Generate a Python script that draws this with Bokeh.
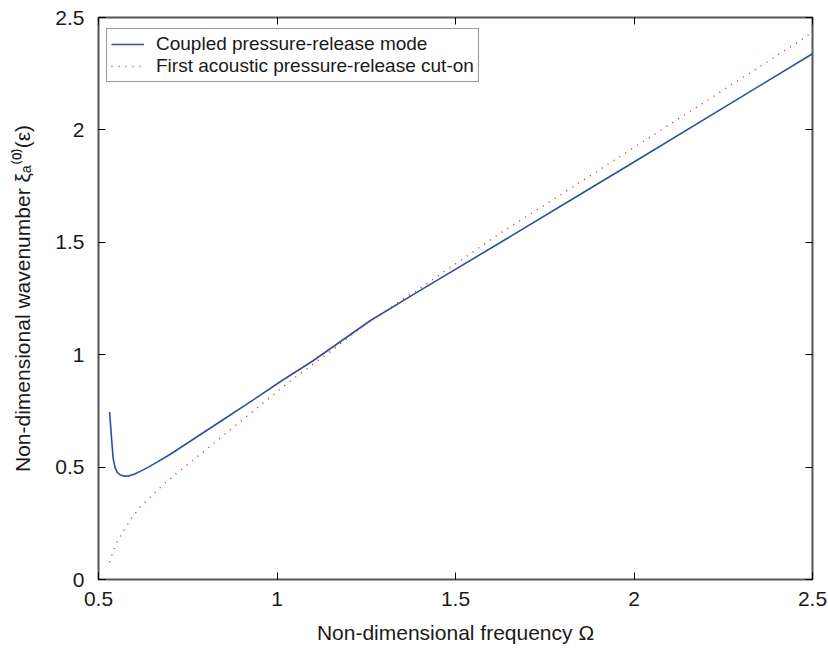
from bokeh.plotting import figure
from bokeh.models import LinearAxis, FixedTicker, Legend, LegendItem, Range1d
from bokeh.embed import file_html
from bokeh.resources import INLINE

# Coupled pressure-release mode (blue solid)
coupled_x = [0.531, 0.536, 0.541, 0.546, 0.552, 0.560, 0.571, 0.585, 0.600, 0.618,
             0.640, 0.664, 0.700, 0.758, 0.851, 0.945, 1.011, 1.100, 1.262, 1.400,
             1.635, 1.800, 2.000, 2.250, 2.500]
coupled_y = [0.745, 0.640, 0.540, 0.500, 0.478, 0.466, 0.460, 0.461, 0.468, 0.482,
             0.500, 0.522, 0.556, 0.616, 0.713, 0.811, 0.882, 0.972, 1.152, 1.285,
             1.508, 1.666, 1.857, 2.098, 2.339]

# First acoustic pressure-release cut-on (red dotted)
cuton_x = [0.531, 0.538, 0.552, 0.571, 0.594, 0.618, 0.664, 0.711, 0.758, 0.851,
           0.945, 1.039, 1.150, 1.262, 1.400, 1.626, 1.800, 2.000, 2.250, 2.466, 2.500]
cuton_y = [0.077, 0.111, 0.166, 0.218, 0.277, 0.325, 0.396, 0.463, 0.522, 0.643,
           0.764, 0.885, 1.015, 1.152, 1.295, 1.541, 1.717, 1.922, 2.177, 2.398, 2.435]

x_ticks = [0.5, 1.0, 1.5, 2.0, 2.5]
y_ticks = [0.0, 0.5, 1.0, 1.5, 2.0, 2.5]
x_tick_labels = {0.5: "0.5", 1.0: "1", 1.5: "1.5", 2.0: "2", 2.5: "2.5"}
y_tick_labels = {0.0: "0", 0.5: "0.5", 1.0: "1", 1.5: "1.5", 2.0: "2", 2.5: "2.5"}

FONT = "Liberation Sans"
TXT = "#1a1a1a"

p = figure(width=828, height=648, output_backend="svg", toolbar_location=None,
           x_range=Range1d(0.5, 2.5), y_range=Range1d(0.0, 2.5),
           min_border_left=98, min_border_right=16, min_border_top=17, min_border_bottom=69,
           x_axis_label="Non-dimensional frequency Ω",
           y_axis_label="Non-dimensional wavenumber ξₐ⁽⁰⁾(ε)")
p.grid.visible = False
p.outline_line_color = "#555555"
p.outline_line_width = 2
p.background_fill_color = "white"
p.border_fill_color = "white"

def style_axis(ax, ticks, labels, show_labels=True):
    ax.ticker = FixedTicker(ticks=ticks)
    ax.major_tick_in = 7
    ax.major_tick_out = 0
    ax.major_tick_line_color = "black"
    ax.major_tick_line_width = 1
    ax.minor_tick_line_color = None
    ax.axis_line_color = None
    ax.major_label_text_font = FONT
    ax.major_label_text_color = TXT
    ax.axis_label_text_font = FONT
    ax.axis_label_text_font_style = "normal"
    ax.axis_label_text_color = TXT
    if show_labels:
        ax.major_label_overrides = labels
        ax.major_label_text_font_size = "21px"
        ax.axis_label_text_font_size = "21px"
        ax.major_label_standoff = 12
        ax.axis_label_standoff = 12
    else:
        ax.major_label_overrides = {k: "" for k in labels}
        ax.major_label_text_font_size = "1px"
        ax.major_label_standoff = 0

style_axis(p.xaxis[0], x_ticks, x_tick_labels)
style_axis(p.yaxis[0], y_ticks, y_tick_labels)
p.yaxis[0].major_label_standoff = 14
p.yaxis[0].axis_label_standoff = 18

top_ax = LinearAxis()
style_axis(top_ax, x_ticks, x_tick_labels, show_labels=False)
p.add_layout(top_ax, "above")
right_ax = LinearAxis()
style_axis(right_ax, y_ticks, y_tick_labels, show_labels=False)
p.add_layout(right_ax, "right")

r1 = p.line(coupled_x, coupled_y, line_color="#2d4fa3", line_width=1.6)
r2 = p.line(cuton_x, cuton_y, line_color="#ff2020", line_width=1.5, line_dash="1 6")

legend = Legend(items=[LegendItem(label="Coupled pressure-release mode", renderers=[r1]),
                       LegendItem(label="First acoustic pressure-release cut-on", renderers=[r2])],
                location=(8, 497))
legend.label_text_font = FONT
legend.label_text_font_size = "19px"
legend.label_text_color = TXT
legend.glyph_width = 33
legend.glyph_height = 22
legend.label_height = 22
legend.label_standoff = 12
legend.padding = 4
legend.spacing = 0
legend.margin = 0
legend.border_line_color = "#333333"
legend.border_line_width = 1.5
legend.background_fill_color = "white"
legend.background_fill_alpha = 1
p.add_layout(legend, "center")

open("out.html", "w").write(file_html(p, INLINE))
